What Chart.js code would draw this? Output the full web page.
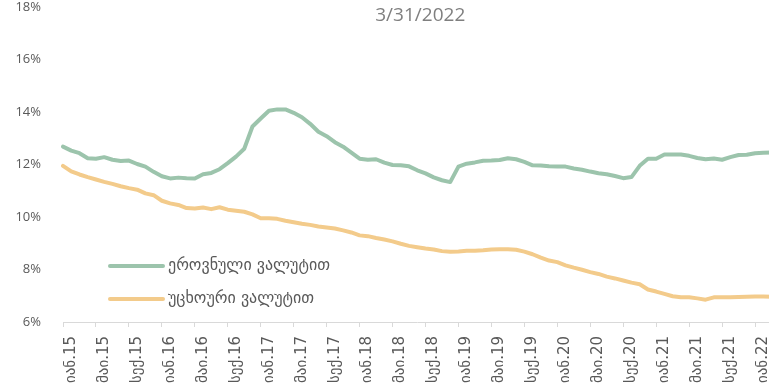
<!DOCTYPE html>
<html>
<head>
<meta charset="utf-8">
<script src="https://cdn.jsdelivr.net/npm/chart.js@4/dist/chart.umd.min.js"></script>
<style>
  html, body { margin: 0; padding: 0; background: #ffffff; overflow: hidden; }
  canvas { display: block; }
</style>
</head>
<body>
<canvas id="chart" width="775" height="391"></canvas>
<script>
// Georgian month abbreviations and the years covered (Jan 2015 – Mar 2022)
const monthNames = ['იან', 'თებ', 'მარ', 'აპრ', 'მაი', 'ივნ', 'ივლ', 'აგვ', 'სექ', 'ოქტ', 'ნოე', 'დეკ'];
const years = ['15', '16', '17', '18', '19', '20', '21', '22'];
const lastMonthOf2022 = 3;

const titleText = '3/31/2022';
const seriesNames = ['ეროვნული ვალუტით', 'უცხოური ვალუტით'];
const seriesColors = ['rgb(156,196,172)', 'rgb(243,203,139)'];

// Interest rate, % — national currency
const domesticCurrency = [
  12.68, 12.53, 12.43, 12.24, 12.22, 12.28, 12.18, 12.13, 12.15, 12.02, 11.92, 11.72,
  11.55, 11.47, 11.50, 11.48, 11.47, 11.63, 11.68, 11.82, 12.05, 12.30, 12.60, 13.45,
  13.75, 14.05, 14.10, 14.10, 13.97, 13.80, 13.55, 13.25, 13.08, 12.85, 12.68, 12.45,
  12.22, 12.18, 12.20, 12.07, 11.98, 11.97, 11.93, 11.78, 11.66, 11.51, 11.40, 11.33,
  11.92, 12.03, 12.08, 12.14, 12.15, 12.17, 12.24, 12.20, 12.10, 11.97, 11.96, 11.93,
  11.92, 11.92, 11.85, 11.80, 11.73, 11.67, 11.63, 11.56, 11.48, 11.52, 11.95, 12.22,
  12.22, 12.38, 12.38, 12.38, 12.33, 12.25, 12.20, 12.23, 12.18, 12.28, 12.36, 12.37,
  12.43, 12.45, 12.46
];

// Interest rate, % — foreign currency
const foreignCurrency = [
  11.95, 11.74, 11.62, 11.52, 11.43, 11.34, 11.26, 11.17, 11.10, 11.04, 10.90, 10.83,
  10.62, 10.52, 10.46, 10.34, 10.32, 10.36, 10.30, 10.37, 10.28, 10.24, 10.20, 10.10,
  9.95, 9.95, 9.93, 9.86, 9.80, 9.74, 9.70, 9.64, 9.60, 9.56, 9.49, 9.41,
  9.30, 9.27, 9.20, 9.14, 9.07, 8.98, 8.90, 8.85, 8.80, 8.76, 8.70, 8.68,
  8.69, 8.71, 8.71, 8.73, 8.76, 8.77, 8.77, 8.75, 8.68, 8.58, 8.45, 8.34,
  8.28, 8.16, 8.07, 7.99, 7.90, 7.83, 7.73, 7.66, 7.58, 7.50, 7.44, 7.24,
  7.16, 7.07, 6.98, 6.94, 6.94, 6.90, 6.85, 6.94, 6.94, 6.94, 6.95, 6.96,
  6.97, 6.97, 6.96
];

// Category labels such as "იან.15"
const labels = [];
years.forEach((yy, yi) => {
  const count = yi === years.length - 1 ? lastMonthOf2022 : 12;
  for (let m = 0; m < count; m++) labels.push(monthNames[m] + '.' + yy);
});

const textColor = '#595959';
const fontStack = '"Open Sans", "DejaVu Sans", sans-serif';
const georgianFont = '"DejaVu Sans", sans-serif';

// Title drawn over the top of the plot
const titlePlugin = {
  id: 'overlayTitle',
  afterDraw(chart) {
    const { ctx, chartArea } = chart;
    ctx.save();
    ctx.font = '19px ' + fontStack;
    ctx.fillStyle = '#7f7f7f';
    ctx.textAlign = 'center';
    ctx.textBaseline = 'middle';
    ctx.fillText(titleText, (chartArea.left + chartArea.right) / 2 + 3, 16);
    ctx.restore();
  }
};

// Legend placed inside the lower-left part of the plot
const insideLegend = {
  id: 'insideLegend',
  afterDraw(chart) {
    const { ctx, chartArea } = chart;
    const x0 = chartArea.left + 47;
    const lineLen = 53;
    const rows = [chartArea.top + 259, chartArea.top + 292];
    ctx.save();
    ctx.font = '16px ' + georgianFont;
    ctx.textBaseline = 'middle';
    ctx.textAlign = 'left';
    chart.data.datasets.forEach((ds, i) => {
      const y = rows[i];
      ctx.strokeStyle = ds.borderColor;
      ctx.lineWidth = 4;
      ctx.lineCap = 'round';
      ctx.beginPath();
      ctx.moveTo(x0, y);
      ctx.lineTo(x0 + lineLen, y);
      ctx.stroke();
      ctx.fillStyle = textColor;
      ctx.fillText(ds.label, x0 + lineLen + 5, y);
    });
    ctx.restore();
  }
};

const noPadding = s => { s.paddingTop = 0; s.paddingBottom = 0; s.paddingLeft = 0; s.paddingRight = 0; };

new Chart(document.getElementById('chart'), {
  type: 'line',
  data: {
    labels: labels,
    datasets: [
      { label: seriesNames[0], data: domesticCurrency, borderColor: seriesColors[0] },
      { label: seriesNames[1], data: foreignCurrency, borderColor: seriesColors[1] }
    ].map(d => Object.assign(d, {
      borderWidth: 4, pointRadius: 0, tension: 0, fill: false,
      borderJoinStyle: 'round', borderCapStyle: 'round'
    }))
  },
  options: {
    responsive: false,
    animation: false,
    layout: { padding: { top: 7, right: 3.5, left: 0, bottom: 0 } },
    plugins: { legend: { display: false }, tooltip: { enabled: false }, title: { display: false } },
    scales: {
      x: {
        offset: false,
        grid: { drawOnChartArea: false, drawTicks: true, tickLength: 5, color: '#d9d9d9', lineWidth: 1 },
        border: { display: true, color: '#d9d9d9', width: 1 },
        ticks: {
          autoSkip: false, minRotation: 90, maxRotation: 90, padding: 9, labelOffset: 8,
          color: textColor, font: { family: georgianFont, size: 15 },
          callback: (v, i) => (i % 4 === 0 ? labels[i] : null)
        },
        afterFit: s => { s.height = 69; noPadding(s); }
      },
      y: {
        min: 6, max: 18,
        grid: { display: false },
        border: { display: false },
        ticks: {
          stepSize: 2, padding: 14, color: textColor,
          font: { family: fontStack, size: 13 },
          callback: v => v + '%'
        },
        afterFit: s => { s.width = 63; noPadding(s); }
      }
    }
  },
  plugins: [titlePlugin, insideLegend]
});
</script>
</body>
</html>
